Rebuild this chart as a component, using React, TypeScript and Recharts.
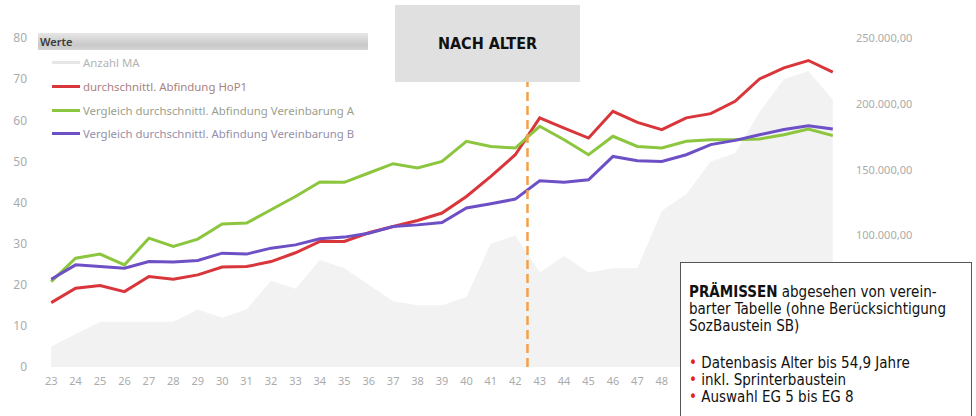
import { ComposedChart, Area, Line, XAxis, YAxis, ReferenceLine } from "recharts"

// Alter (Jahre)
const ages = [23, 24, 25, 26, 27, 28, 29, 30, 31, 32, 33, 34, 35, 36, 37, 38, 39, 40, 41, 42, 43, 44, 45, 46, 47, 48, 49, 50, 51, 52, 53, 54, 55]

// Anzahl Mitarbeiter (linke Achse)
const anzahlMA = [5, 8, 11, 11, 11, 11, 14, 12, 14, 21, 19, 26, 24, 20, 16, 15, 15, 17, 30, 32, 23, 27, 23, 24, 24, 38, 42, 50, 52, 62, 70, 72, 65]

// Abfindungen in EUR (rechte Achse)
const abfindungHoP1 = [48900, 59900, 61900, 57300, 68700, 66700, 70000, 75900, 76300, 80100, 86800, 95400, 95400, 102000, 106800, 111300, 117000, 129600, 144800, 161300, 189300, 181600, 174000, 194300, 185900, 180400, 189300, 192500, 201900, 218900, 227300, 232900, 224000]
const vereinbarungA = [64900, 82700, 85800, 77600, 97900, 91600, 97200, 108600, 109400, 119500, 129600, 140600, 140300, 147400, 154500, 151200, 156200, 171500, 167600, 166400, 182900, 172700, 161300, 175300, 167600, 166400, 171500, 172700, 172700, 173300, 176500, 180900, 175800]
const vereinbarungB = [66700, 77600, 76300, 75100, 80100, 79700, 80900, 86500, 85800, 90300, 92800, 97400, 98700, 101700, 106800, 108000, 109800, 120800, 124000, 127600, 141500, 140300, 142300, 160000, 156800, 156200, 161300, 169000, 172200, 176500, 180400, 183400, 180900]

// sichtbare Achsenbeschriftungen (der Rest liegt unter der Prämissen-Box)
const xTicks = [23, 24, 25, 26, 27, 28, 29, 30, 31, 32, 33, 34, 35, 36, 37, 38, 39, 40, 41, 42, 43, 44, 45, 46, 47, 48]
const leftTicks = [0, 10, 20, 30, 40, 50, 60, 70, 80]
const rightTicks = [100000, 150000, 200000, 250000]
const splitAge = 42.5

const series = [
  { key: "ma", name: "Anzahl MA", color: "#e6e6e6", text: "#b4b4b4" },
  { key: "hop1", name: "durchschnittl. Abfindung HoP1", color: "#d9363b", text: "#a98282" },
  { key: "a", name: "Vergleich durchschnittl. Abfindung Vereinbarung A", color: "#8cc63e", text: "#9aa08e" },
  { key: "b", name: "Vergleich durchschnittl. Abfindung Vereinbarung B", color: "#6d4fc6", text: "#9690a8" },
]

const data = ages.map((age, i) => ({
  age,
  ma: anzahlMA[i],
  hop1: abfindungHoP1[i],
  a: vereinbarungA[i],
  b: vereinbarungB[i],
}))

const formatEuro = (v: number) =>
  Math.round(v).toString().replace(/\B(?=(\d{3})+(?!\d))/g, ".") + ",00"

const font = "'Noto Sans', 'Open Sans', sans-serif"
const narrow = "'Liberation Sans Narrow', 'DejaVu Sans Condensed', 'Roboto', sans-serif"
const tickStyle = { fill: "#ababab", fontSize: 12, fontFamily: font }

export default function App() {
  return (
    <div style={{ position: "absolute", left: 0, top: 0, width: 976, height: 416, background: "#fff", overflow: "hidden" }}>
      <ComposedChart width={976} height={416} data={data} margin={{ top: 38, right: 0, bottom: 0, left: 0 }}>
        <XAxis
          dataKey="age"
          type="number"
          domain={[22.5, 55.5]}
          ticks={xTicks}
          interval={0}
          axisLine={false}
          tickLine={false}
          tickSize={0}
          tickMargin={10}
          height={49}
          tick={{ ...tickStyle, fontSize: 11 }}
        />
        <YAxis
          yAxisId="left"
          orientation="left"
          domain={[0, 80]}
          ticks={leftTicks}
          width={39}
          axisLine={false}
          tickLine={false}
          tickSize={0}
          tickMargin={12}
          tick={tickStyle}
        />
        <YAxis
          yAxisId="right"
          orientation="right"
          domain={[0, 250000]}
          ticks={rightTicks}
          width={131}
          axisLine={false}
          tickLine={false}
          tickSize={0}
          tickMargin={11}
          tickFormatter={formatEuro}
          tick={{ ...tickStyle, fontSize: 11 }}
        />
        <Area
          yAxisId="left"
          type="linear"
          dataKey="ma"
          name={series[0].name}
          stroke="none"
          fill="#f2f2f2"
          fillOpacity={1}
          isAnimationActive={false}
        />
        <Line yAxisId="right" type="linear" dataKey="hop1" name={series[1].name} stroke={series[1].color} strokeWidth={3} dot={false} isAnimationActive={false} />
        <Line yAxisId="right" type="linear" dataKey="a" name={series[2].name} stroke={series[2].color} strokeWidth={3} dot={false} isAnimationActive={false} />
        <Line yAxisId="right" type="linear" dataKey="b" name={series[3].name} stroke={series[3].color} strokeWidth={3} dot={false} isAnimationActive={false} />
        <ReferenceLine yAxisId="right" x={splitAge} stroke="#f5a048" strokeWidth={2.5} strokeDasharray="9 5" />
      </ComposedChart>

      {/* Legende */}
      <div style={{ position: "absolute", left: 38, top: 33, width: 330, fontFamily: font }}>
        <div
          style={{
            height: 17,
            background: "linear-gradient(to bottom, #e6e6e6, #c9c9c9 70%, #d4d4d4)",
            fontSize: 11,
            fontWeight: 600,
            color: "#3a3a3a",
            lineHeight: "17px",
            paddingLeft: 2,
          }}
        >
          Werte
        </div>
        {series.map((s, i) => (
          <div key={s.key} style={{ position: "absolute", left: 14, top: 22 + i * 23.8, display: "flex", alignItems: "center", whiteSpace: "nowrap" }}>
            <div style={{ width: 28, height: 3, background: s.color, marginRight: 3 }} />
            <span style={{ fontSize: 11.4, color: s.text }}>{s.name}</span>
          </div>
        ))}
      </div>

      {/* Titelbox */}
      <div
        style={{
          position: "absolute",
          left: 395,
          top: 5,
          width: 185,
          height: 77,
          background: "#e0e0e0",
          display: "flex",
          alignItems: "center",
          justifyContent: "center",
          fontFamily: narrow,
          fontWeight: 700,
          fontSize: 16,
          color: "#111",
        }}
      >
        NACH ALTER
      </div>

      {/* Prämissen */}
      <div
        style={{
          position: "absolute",
          left: 680,
          top: 262,
          width: 292,
          height: 170,
          background: "#fff",
          border: "1px solid #555",
          boxSizing: "border-box",
          padding: "21px 0 0 8px",
          fontFamily: narrow,
          fontSize: 15,
          lineHeight: "17px",
          color: "#111",
        }}
      >
        <div>
          <b>PRÄMISSEN</b> abgesehen von verein-
          <br />
          barter Tabelle (ohne Berücksichtigung
          <br />
          SozBaustein SB)
        </div>
        <div style={{ marginTop: 20 }}>
          {["Datenbasis Alter bis 54,9 Jahre", "inkl. Sprinterbaustein", "Auswahl EG 5 bis EG 8"].map((t) => (
            <div key={t}>
              <span style={{ color: "#e2231a" }}>•</span> {t}
            </div>
          ))}
        </div>
      </div>
    </div>
  )
}
